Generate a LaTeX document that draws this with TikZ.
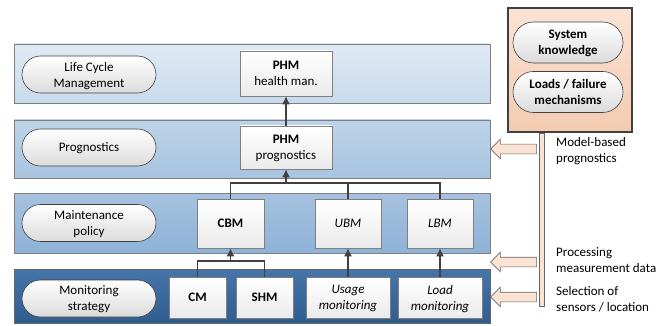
\documentclass[tikz,border=0pt]{standalone}
\usepackage{fontspec}
\setmainfont{Carlito}
\usepackage{tikz}
\usetikzlibrary{shapes.misc}
\usetikzlibrary{shapes.arrows}
\usetikzlibrary{arrows.meta}
\definecolor{edgegray}{HTML}{7F7F7F}
\definecolor{darkline}{HTML}{404040}
\definecolor{peach}{HTML}{FBE3D3}
\definecolor{peachdark}{HTML}{F3CBB2}
\definecolor{lcmtop}{HTML}{E0EAF4}
\definecolor{lcmbot}{HTML}{C7DAEC}
\definecolor{progtop}{HTML}{BED3E8}
\definecolor{progbot}{HTML}{A8C4E0}
\definecolor{mainttop}{HTML}{A7C2DF}
\definecolor{maintbot}{HTML}{8EB2D8}
\definecolor{montop}{HTML}{4675A9}
\definecolor{monbot}{HTML}{2F5D90}
\newcommand{\labelfont}{\fontsize{13}{16}\selectfont}
\tikzstyle{band}=[draw=edgegray, inner sep=0, outer sep=0, line width=0.8pt]
\tikzstyle{levelpill}=[draw=darkline, rounded rectangle, top color=white, bottom color=black!14,
                       inner sep=0, minimum width=134, minimum height=37, align=center, line width=0.6pt]
\tikzstyle{knowpill}=[levelpill, minimum width=110, minimum height=41, font=\labelfont\bfseries]
\tikzstyle{blockbox}=[draw=edgegray, top color=white, bottom color=black!8, inner sep=0,
                      align=center, line width=0.8pt]
\tikzstyle{link}=[darkline, line width=1.1pt]
\tikzstyle{feed}=[single arrow, draw=black!60, fill=peach, shape border rotate=180, inner sep=4.5pt,
                  minimum height=46, single arrow head extend=5pt, line width=0.6pt]
\tikzstyle{sidetext}=[anchor=west, align=left, inner sep=0]

\begin{document}
\begin{tikzpicture}[x=1pt, y=-1pt, font=\labelfont,
                    every node/.style={text depth=0pt}]
        \useasboundingbox (0,0) rectangle (669,326);
        % layers
        \node[band, top color=lcmtop, bottom color=lcmbot, minimum width=476, minimum height=59] (lcm) at (252,73.5) {};
        \node[band, top color=progtop, bottom color=progbot, minimum width=476, minimum height=58] (prog) at (252,149) {};
        \node[band, top color=mainttop, bottom color=maintbot, minimum width=476, minimum height=60] (maint) at (252,223) {};
        \node[band, top color=montop, bottom color=monbot, draw=black!60, minimum width=476, minimum height=54] (mon) at (252,296) {};
        \node[levelpill] (lcmlabel) at (89,74.5) {Life Cycle\\Management};
        \node[levelpill] (proglabel) at (89,147.5) {Prognostics};
        \node[levelpill] (maintlabel) at (89,223) {Maintenance\\policy};
        \node[levelpill] (monlabel) at (89,298.5) {Monitoring\\strategy};
        % blocks
        \node[blockbox, minimum width=92, minimum height=45] (hm) at (286,73.5) {\textbf{PHM}\\health man.};
        \node[blockbox, minimum width=92, minimum height=43] (pp) at (286,147.5) {\textbf{PHM}\\prognostics};
        \node[blockbox, minimum width=67, minimum height=49, font=\labelfont\bfseries] (cbm) at (230.5,223.5) {CBM};
        \node[blockbox, minimum width=66, minimum height=49, font=\labelfont\itshape] (ubm) at (348,223.5) {UBM};
        \node[blockbox, minimum width=66, minimum height=49, font=\labelfont\itshape] (lbm) at (440,223.5) {LBM};
        \node[blockbox, minimum width=57, minimum height=41, font=\labelfont\bfseries] (cm) at (197.5,297.5) {CM};
        \node[blockbox, minimum width=57, minimum height=41, font=\labelfont\bfseries] (shm) at (264.5,297.5) {SHM};
        \node[blockbox, minimum width=84, minimum height=41, font=\labelfont\itshape] (usage) at (348,297.5) {Usage\\monitoring};
        \node[blockbox, minimum width=84, minimum height=41, font=\labelfont\itshape] (load) at (440,297.5) {Load\\monitoring};
        % connections
        \coordinate (upjoin) at (286,183);
        \coordinate (lowjoin) at (230.5,261);
        \draw[link] (cbm.north) |- (upjoin) -| (lbm.north);
        \draw[link] (ubm.north) -- (ubm.north |- upjoin);
        \draw[link, -{Latex[length=8pt, width=8pt]}] (upjoin) -- (pp.south);
        \draw[link, -{Latex[length=8pt, width=8pt]}] (pp.north) -- (hm.south);
        \draw[link] (cm.north) |- (lowjoin) -| (shm.north);
        \draw[link, -{Latex[length=8pt, width=8pt]}] (lowjoin) -- (cbm.south);
        \draw[link, -{Latex[length=8pt, width=8pt]}] (usage.north) -- (ubm.south);
        \draw[link, -{Latex[length=8pt, width=8pt]}] (load.north) -- (lbm.south);
        % knowledge
        \node[draw=darkline, line width=1.2pt, top color=peach, bottom color=peachdark, inner sep=0, minimum width=124, minimum height=124] (know) at (570,70) {};
        \node[knowpill] (sysknow) at (568,42.5) {System\\knowledge};
        \node[knowpill] (loads) at (568,92) {Loads / failure\\mechanisms};
        \node[draw=black!60, fill=peach, inner sep=0, minimum width=5, minimum height=173, anchor=north, line width=0.6pt] (bar) at (541.5,132.6) {};
        \node[feed] (feedprog) at (516,149) {};
        \node[feed] (feedproc) at (516,262) {};
        \node[feed] (feedsel) at (516,297) {};
        \node[sidetext] (modeltext) at (556,149.5) {Model-based\\prognostics};
        \node[sidetext] (proctext) at (556,260.5) {Processing\\measurement data};
        \node[sidetext] (seltext) at (556,298.5) {Selection of\\sensors / location};
    \end{tikzpicture}
\end{document}
